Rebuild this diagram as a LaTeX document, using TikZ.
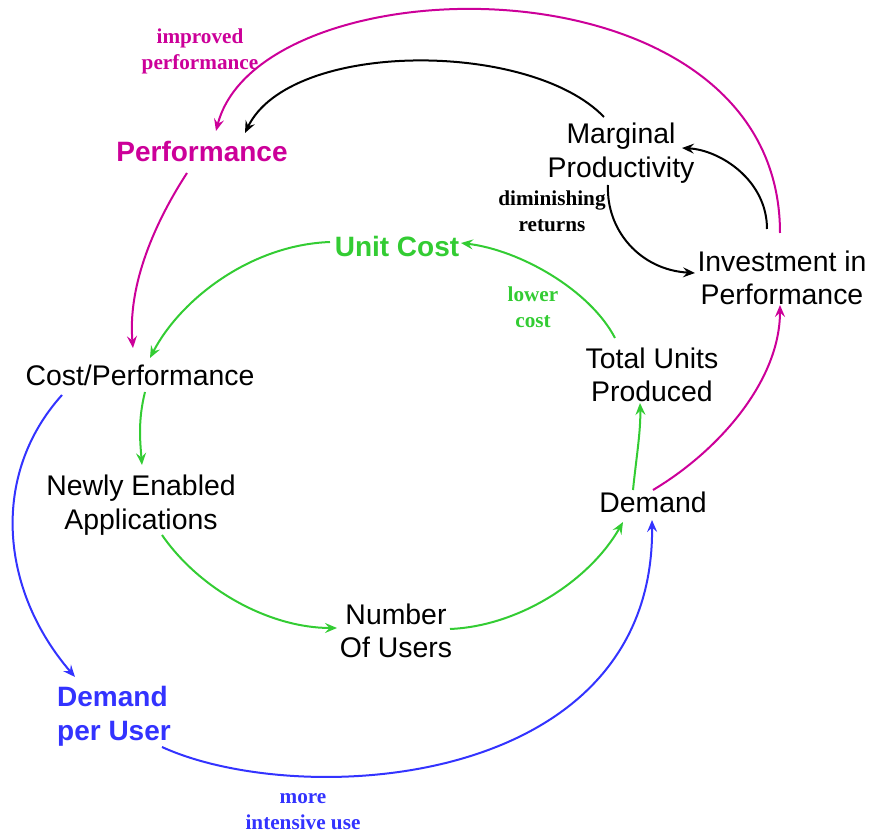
\documentclass[tikz,border=0pt]{standalone}
\usepackage{fontspec}
\setmainfont{Liberation Sans}
\newfontfamily\lblfont{Liberation Serif}
\usetikzlibrary{arrows.meta}
\definecolor{mag}{RGB}{204,0,153}
\definecolor{grn}{RGB}{51,204,51}
\definecolor{blu}{RGB}{51,51,255}
\begin{document}
\begin{tikzpicture}[x=0.5pt,y=-0.5pt,
  var/.style={inner sep=0pt, align=center, font=\fontsize{14.2}{16.7}\selectfont},
  bvar/.style={inner sep=0pt, align=center, font=\fontsize{14}{17}\selectfont\bfseries},
  lbl/.style={inner sep=0pt, align=center, font=\fontsize{10.6}{13}\selectfont\lblfont\bfseries},
  link/.style={line width=1pt, -{Stealth[length=6pt,width=5pt,inset=2.2pt]}},
]
\useasboundingbox (0,0) rectangle (869,834);

% variables
\node[bvar, text=mag] (perf) at (202,151) {Performance};
\node[var] (marg) at (621,153) {Marginal\\Productivity};
\node[var] (inv) at (782,278) {Investment in\\Performance};
\node[bvar, text=grn] (unit) at (397,246) {Unit Cost};
\node[var] (cp) at (140,375) {Cost/Performance};
\node[var] (tup) at (652,375) {Total Units\\Produced};
\node[var] (newly) at (141,505) {Newly Enabled\\Applications};
\node[var] (dem) at (653,502) {Demand};
\node[var] (users) at (396,631) {Number\\Of Users};
\node[bvar, text=blu, align=left] (dpu) at (114,716) {Demand\\per User};

% labels
\node[lbl, text=mag] (limp) at (200,51) {improved\\performance};
\node[lbl, text=black] (ldim) at (552,211) {diminishing\\returns};
\node[lbl, text=grn] (llow) at (533,307) {lower\\cost};
\node[lbl, text=blu] (lmore) at (303,812) {more\\intensive use};

% magenta links
\draw[link, mag] ([shift={(-2,-45)}]inv.center) .. controls (780,-50) and (260,-40) .. ([shift={(14,-20)}]perf.center);
\draw[link, mag] ([shift={(-15,22)}]perf.center) .. controls (150,230) and (128,290) .. ([shift={(-7,-27)}]cp.center);
\draw[link, mag] ([shift={(0,-12)}]dem.center) .. controls (720,450) and (780,380) .. ([shift={(-2,27)}]inv.center);

% black links
\draw[link, black] ([shift={(-17,-36)}]marg.center) .. controls (530,40) and (290,40) .. ([shift={(43,-18)}]perf.center);
\draw[link, black] ([shift={(-15,-49)}]inv.center) .. controls (767,180) and (720,150) .. ([shift={(61,-5)}]marg.center);
\draw[link, black] ([shift={(-13,32)}]marg.center) .. controls (606,230) and (640,270) .. ([shift={(-87,-5)}]inv.center);

% green links
\draw[link, grn] ([shift={(-67,-4)}]unit.center) .. controls (250,245) and (180,300) .. ([shift={(10,-17)}]cp.center);
\draw[link, grn] ([shift={(-37,-37)}]tup.center) .. controls (590,290) and (520,250) .. ([shift={(64,-3)}]unit.center);
\draw[link, grn] ([shift={(5,17)}]cp.center) .. controls (138,420) and (140,440) .. ([shift={(1,-40)}]newly.center);
\draw[link, grn] ([shift={(21,30)}]newly.center) .. controls (200,590) and (270,628) .. ([shift={(-59,-3)}]users.center);
\draw[link, grn] ([shift={(54,-2)}]users.center) .. controls (520,626) and (590,580) .. ([shift={(-30,20)}]dem.center);
\draw[link, grn] ([shift={(-20,-12)}]dem.center) .. controls (636,460) and (641,430) .. ([shift={(-12,28)}]tup.center);

% blue links
\draw[link, blu] ([shift={(-78,20)}]cp.center) .. controls (-10,475) and (0,590) .. ([shift={(-39,-39)}]dpu.center);
\draw[link, blu] ([shift={(48,31)}]dpu.center) .. controls (300,810) and (655,790) .. ([shift={(-1,18)}]dem.center);
\end{tikzpicture}
\end{document}
